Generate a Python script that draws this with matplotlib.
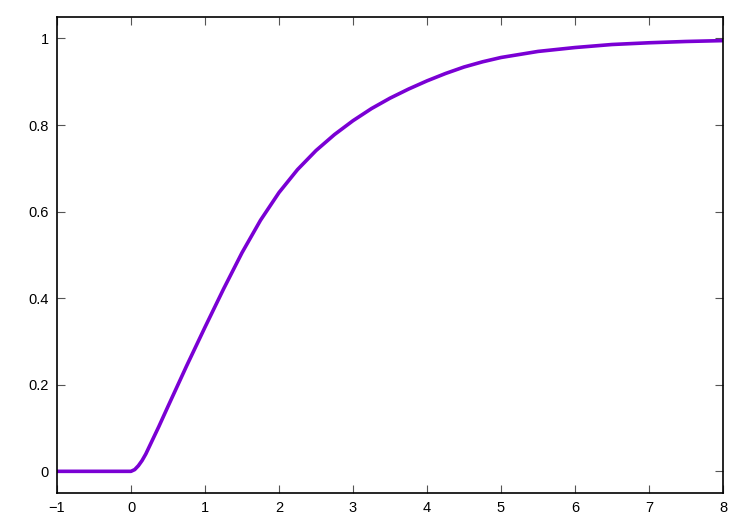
import numpy as np
import matplotlib.pyplot as plt

plt.rcParams['font.family'] = ['Liberation Sans', 'DejaVu Sans']

# values
x_vals = [-1.0, 0.0, 0.05, 0.10, 0.15, 0.20, 0.25, 0.375, 0.50, 0.75, 1.00,
          1.25, 1.50, 1.75, 2.00, 2.25, 2.50, 2.75, 3.00, 3.25, 3.50,
          3.75, 4.00, 4.25, 4.50, 4.75, 5.00, 5.50, 6.00, 6.50, 7.00,
          7.50, 8.00]
y_vals = [0.0, 0.0, 0.004, 0.013, 0.025, 0.040, 0.058, 0.103, 0.150, 0.243, 0.333,
          0.421, 0.505, 0.580, 0.644, 0.697, 0.741, 0.778, 0.810, 0.838, 0.862,
          0.883, 0.902, 0.919, 0.934, 0.946, 0.956, 0.970, 0.979, 0.986, 0.990,
          0.993, 0.995]

x_ticks = [-1, 0, 1, 2, 3, 4, 5, 6, 7, 8]
y_ticks = [0, 0.2, 0.4, 0.6, 0.8, 1]
y_labels = ['0', '0.2', '0.4', '0.6', '0.8', '1']

fig = plt.figure(figsize=(7.5, 5.25), dpi=100)
ax = fig.add_axes([0.076, 0.061, 0.888, 0.907])

ax.plot(x_vals, y_vals, color='#7a00d4', lw=2.6, solid_joinstyle='round')

ax.set_xlim(-1, 8)
ax.set_ylim(-0.05, 1.05)
ax.set_xticks(x_ticks)
ax.set_xticklabels([str(t).replace('-', '\u2212') for t in x_ticks])
ax.set_yticks(y_ticks)
ax.set_yticklabels(y_labels)
ax.tick_params(direction='in', length=6, width=0.8, color='#555555',
               top=True, right=True, labelsize=10.5, pad=6)
for s in ax.spines.values():
    s.set_linewidth(1.2)

fig.savefig('out.png', dpi=100)
